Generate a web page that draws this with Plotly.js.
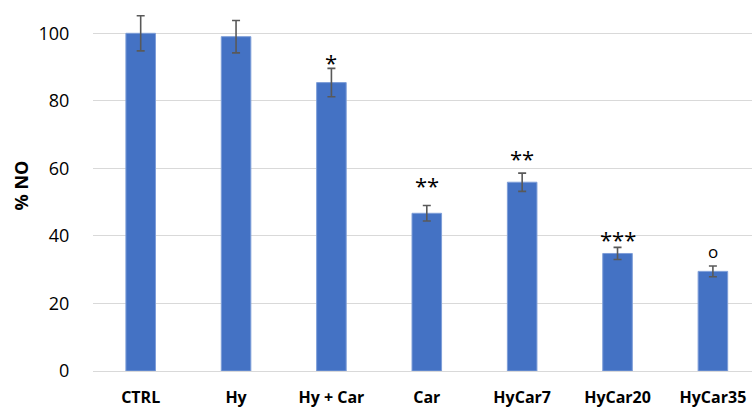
<!DOCTYPE html>
<html>
<head>
<meta charset="utf-8">
<script src="https://cdn.plot.ly/plotly-3.0.1.min.js"></script>
<style>
  html, body { margin: 0; padding: 0; background: #fff; }
  #chart { width: 752px; height: 407px; }
</style>
</head>
<body>
<div id="chart"></div>
<script>
// Treatment groups and nitric oxide levels (% of control)
const groups = ['CTRL', 'Hy', 'Hy + Car', 'Car', 'HyCar7', 'HyCar20', 'HyCar35'];
const noPercent = [100, 99, 85.4, 46.7, 55.9, 34.8, 29.5];
const noError = [5.2, 4.8, 4.2, 2.3, 2.7, 1.8, 1.6];

// Significance marks and the height (in % NO) where each is written
const sigMarks = ['', '', '*', '**', '**', '***', 'o'];
const sigHeight = [0, 0, 91.5, 55, 63, 39, 35.5];

const fontFamily = '"Open Sans", "Liberation Sans", Arial, sans-serif';

const bars = {
  type: 'bar',
  x: groups,
  y: noPercent,
  marker: { color: '#4472C4', line: { color: '#7e9ed8', width: 1 } },
  error_y: {
    type: 'data',
    array: noError,
    visible: true,
    color: '#595959',
    thickness: 1.6,
    width: 4
  },
  hoverinfo: 'x+y'
};

const annotations = [];
groups.forEach((g, i) => {
  if (!sigMarks[i]) return;
  annotations.push({
    x: g,
    y: sigHeight[i],
    xref: 'x',
    yref: 'y',
    text: sigMarks[i],
    showarrow: false,
    yanchor: 'middle',
    font: { family: fontFamily, size: sigMarks[i] === 'o' ? 17 : 22, color: '#000' }
  });
});

const layout = {
  width: 752,
  height: 407,
  margin: { l: 93.4, r: 0, t: 0, b: 36 },
  paper_bgcolor: '#fff',
  plot_bgcolor: '#fff',
  showlegend: false,
  bargap: 0.69,
  annotations: annotations,
  xaxis: {
    type: 'category',
    range: [-0.5, 6.41],
    showgrid: false,
    showline: false,
    zeroline: false,
    ticks: 'outside',
    ticklen: 12,
    tickcolor: 'rgba(0,0,0,0)',
    tickfont: { family: fontFamily, size: 16, color: '#000', weight: 'bold' }
  },
  yaxis: {
    range: [0, 109.86],
    tickvals: [0, 20, 40, 60, 80, 100],
    showgrid: true,
    gridcolor: '#d9d9d9',
    gridwidth: 1,
    zeroline: true,
    zerolinecolor: '#d9d9d9',
    zerolinewidth: 1,
    showline: false,
    ticks: 'outside',
    ticklen: 19,
    tickcolor: 'rgba(0,0,0,0)',
    tickfont: { family: fontFamily, size: 18, color: '#000' },
    title: {
      text: '% NO',
      standoff: 5,
      font: { family: fontFamily, size: 18, color: '#000', weight: 'bold' }
    }
  }
};

Plotly.newPlot('chart', [bars], layout, { staticPlot: true, displayModeBar: false });
</script>
</body>
</html>
